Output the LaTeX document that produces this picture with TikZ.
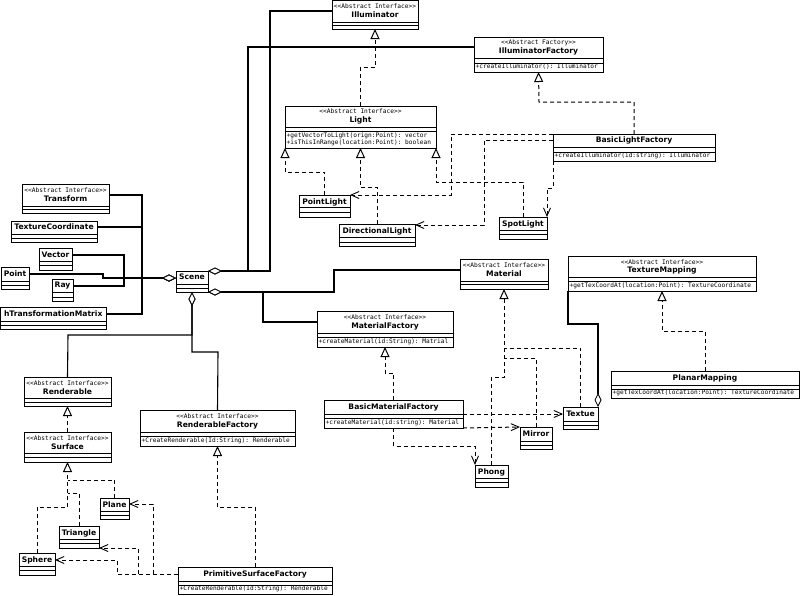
\documentclass[tikz,border=0pt]{standalone}
\usepackage{fontspec}
\setmainfont{DejaVu Sans}
\setmonofont{DejaVu Sans Mono}
\usepackage{tikz}
\usetikzlibrary{arrows.meta,shapes,positioning}
\tikzset{
    classbox/.style={rectangle,draw,fill=white,inner sep=0,outer sep=0,line width=1pt},
    classname/.style={inner sep=0,font=\fontsize{7.6}{8}\selectfont\bfseries},
    stereo/.style={inner sep=0,font=\fontsize{6.2}{7}\ttfamily},
    method/.style={inner sep=0,anchor=west,font=\fontsize{6.15}{7}\ttfamily},
    assoc/.style={line width=1.1pt},
    aggr/.style={assoc,{Diamond[fill=white,length=14pt,width=7pt,line width=.8pt]}-},
    branch/.style={line width=1pt,dash pattern=on 4pt off 3pt},
    impl/.style={branch,-{Triangle[open,length=10pt,width=9pt,line width=1pt]}},
    dep/.style={branch,-{Straight Barb[length=8pt,width=7pt,line width=.9pt]}},
}
\newcommand{\umlclass}[9]{
    \node[classbox,minimum width={(#4-#2)*1pt},minimum height={(#5-#3)*1pt}] (#1) at ({(#2+#4)/2},{(#3+#5)/2}) {};
    \draw[line width=1pt] (#1.west |- 0,#6) -- (#1.east |- 0,#6) (#1.west |- 0,#7) -- (#1.east |- 0,#7);
    \node[classname] (#1-name) at (#1.center |- 0,#8) {#9};
}
\newcommand{\umlstereo}[3]{\node[stereo] (#1-stereo) at (#1.center |- 0,#2) {#3};}
\newcommand{\umlmethod}[4][m]{\node[method] (#2-#1) at ([xshift=1.5pt]#2.west |- 0,#3) {#4};}

\begin{document}
\begin{tikzpicture}[>=stealth,x=1pt,y=-1pt]
    \useasboundingbox (0,0) rectangle (800,595);

    \umlclass{illum}{332}{0.5}{418}{29}{22}{25}{15}{Illuminator}
    \umlstereo{illum}{6}{<{}<Abstract Interface>{}>}
    \umlclass{illumf}{474}{37}{603}{72}{58}{63}{51}{IlluminatorFactory}
    \umlstereo{illumf}{43}{<{}<Abstract Factory>{}>}
    \umlmethod{illumf}{67}{+createIlluminator(): Illuminator}
    \umlclass{light}{285}{106}{436}{148}{127}{131}{120}{Light}
    \umlstereo{light}{111}{<{}<Abstract Interface>{}>}
    \umlmethod{light}{136}{+getVectorToLight(orign:Point): vector}
    \umlmethod[n]{light}{143}{+isThisInRange(location:Point): boolean}
    \umlclass{blf}{553}{134}{715}{161}{147}{152}{140}{BasicLightFactory}
    \umlmethod{blf}{156}{+createIlluminator(id:string): Illuminator}
    \umlclass{pointl}{299}{195}{350}{217}{207}{212}{202}{PointLight}
    \umlclass{dirl}{339}{224}{415}{246}{237}{242}{231}{DirectionalLight}
    \umlclass{spotl}{499}{217}{547}{239}{230}{234}{224}{SpotLight}

    \umlclass{transform}{22}{184}{109}{213}{206}{209}{199}{Transform}
    \umlstereo{transform}{190}{<{}<Abstract Interface>{}>}
    \umlclass{texc}{11}{221}{97}{242}{234}{238}{227}{TextureCoordinate}
    \umlclass{vector}{39}{248}{72}{270}{261}{265}{255}{Vector}
    \umlclass{point}{1}{267}{29}{289}{281}{285}{274}{Point}
    \umlclass{ray}{52}{279}{73}{301}{292}{297}{286}{Ray}
    \umlclass{htm}{0.5}{307}{106}{329}{321}{325}{314}{hTransformationMatrix}
    \umlclass{scene}{176}{271}{208}{292}{284}{288}{277}{Scene}

    \umlclass{rend}{24}{377}{111}{406}{398}{402}{392}{Renderable}
    \umlstereo{rend}{383}{<{}<Abstract Interface>{}>}
    \umlclass{surf}{24}{432}{111}{462}{453}{457}{447}{Surface}
    \umlstereo{surf}{438}{<{}<Abstract Interface>{}>}
    \umlclass{rendf}{140}{410}{295}{446}{432}{436}{425}{RenderableFactory}
    \umlstereo{rendf}{416}{<{}<Abstract Interface>{}>}
    \umlmethod{rendf}{441}{+CreateRenderable(Id:String): Renderable}
    \umlclass{plane}{100}{498}{129}{519}{511}{515}{505}{Plane}
    \umlclass{tri}{59}{526}{99}{548}{539}{543}{533}{Triangle}
    \umlclass{sphere}{19}{553}{55}{575}{566}{570}{560}{Sphere}
    \umlclass{psf}{178}{567}{332}{594}{581}{585}{574}{PrimitiveSurfaceFactory}
    \umlmethod{psf}{589}{+CreateRenderable(Id:String): Renderable}

    \umlclass{mat}{460}{259}{548}{289}{281}{284}{274}{Material}
    \umlstereo{mat}{265}{<{}<Abstract Interface>{}>}
    \umlclass{matf}{317}{311}{453}{347}{333}{337}{326}{MaterialFactory}
    \umlstereo{matf}{317}{<{}<Abstract Interface>{}>}
    \umlmethod{matf}{342}{+createMaterial(id:String): Matrial}
    \umlclass{bmf}{324}{400}{463}{428}{414}{418}{407}{BasicMaterialFactory}
    \umlmethod{bmf}{423}{+createMaterial(id:string): Material}
    \umlclass{textue}{563}{407}{598}{429}{421}{425}{414}{Textue}
    \umlclass{mirror}{520}{427}{552}{449}{441}{445}{434}{Mirror}
    \umlclass{phong}{475}{465}{508}{487}{478}{482}{472}{Phong}
    \umlclass{texm}{568}{256}{756}{291}{277}{281}{270}{TextureMapping}
    \umlstereo{texm}{262}{<{}<Abstract Interface>{}>}
    \umlmethod{texm}{286}{+getTexCoordAt(location:Point): TextureCoordinate}
    \umlclass{planm}{611}{371}{799}{398}{385}{389}{378}{PlanarMapping}
    \umlmethod{planm}{393}{+getTexCoordAt(location:Point): TextureCoordinate}

    \coordinate (surfp) at (67.5,480);
    \coordinate (surft) at (67.5,493);
    \coordinate (psfp) at (153,574);
    \coordinate (psft) at (138,574);
    \coordinate (matm) at (504,358);
    \coordinate (matt) at (504,348);

    \draw [aggr] (scene.north east) -- (270,271) -- (270,11) -- (illum.west |- 0,11);
    \draw [aggr] (scene.north east) -- (248,271) -- (248,47) -- (illumf.west |- 0,47);
    \draw [aggr] (scene.south east) -- (334,292) -- (334,270) -- (mat.west |- 0,270);
    \draw [aggr] (scene.south east) -- (263,292) -- (263,322) -- (matf.west |- 0,322);
    \draw [aggr] (scene.south -| 192,0) -- (192,335) -- (68,335) -- (rend.north);
    \draw [aggr] (scene.south -| 192,0) -- (192,352) -- (218,352) -- (rendf.north);
    \draw [aggr] (scene.west |- 0,278) -- (103,278) -- (103,274) -- (point.east |- 0,274);
    \draw [aggr] (scene.west |- 0,278) -- (142,278) -- (142,195) -- (transform.east |- 0,195);
    \draw [aggr] (scene.west |- 0,278) -- (142,278) -- (142,227) -- (texc.east |- 0,227);
    \draw [aggr] (scene.west |- 0,278) -- (142,278) -- (142,314) -- (htm.east |- 0,314);
    \draw [assoc] (vector.east |- 0,255) -- (124,255) -- (124,286) -- (ray.east |- 0,286);
    \draw [aggr] (textue.north east) -- (598,324) -- (568,324) -- (texm.south west);

    \draw [impl] (light.north) -- (360.5,67) -- (375,67) -- (illum.south);
    \draw [impl] (blf.north) -- (634,102) -- (539,102) -- (illumf.south);
    \draw [impl] (pointl.north) -- (324.5,172) -- (285,172) -- (light.south west);
    \draw [impl] (dirl.north) -- (377,187) -- (360.5,187) -- (light.south);
    \draw [impl] (spotl.north) -- (523,182) -- (436,182) -- (light.south east);
    \draw [dep] (blf.north west) -- (451,134) -- (451,195) -- (pointl.east |- 0,195);
    \draw [dep] (blf.west |- 0,140) -- (484,140) -- (484,225) -- (dirl.east |- 0,225);
    \draw [dep] (blf.south west) -- (553,188) -- (547,188) -- (spotl.north east);

    \draw [impl] (surf.north) -- (rend.south);
    \draw [branch] (plane.north) -- (114.5,480) -- (surfp);
    \draw [branch] (tri.north) -- (79,493) -- (surft);
    \draw [impl] (sphere.north) -- (37,507) -- (67.5,507) -- (surf.south);
    \draw [impl] (psf.north) -- (255,507) -- (217.5,507) -- (rendf.south);
    \draw [dep] (psfp) -- (153,504) -- (plane.east |- 0,504);
    \draw [dep] (psft) -- (138,548) -- (tri.south east);
    \draw [dep] (psf.west |- 0,574) -- (117,574) -- (117,560) -- (sphere.east |- 0,560);

    \draw [impl] (bmf.north) -- (393.5,373) -- (385,373) -- (matf.south);
    \draw [impl] (phong.north) -- (491.5,377) -- (504,377) -- (mat.south);
    \draw [branch] (mirror.north) -- (536,358) -- (matm);
    \draw [branch] (textue.north) -- (580.5,348) -- (matt);
    \draw [dep] (bmf.east |- 0,414) -- (textue.west |- 0,414);
    \draw [dep] (bmf.south east) -- (mirror.north west);
    \draw [dep] (bmf.south) -- (393.5,446) -- (475,446) -- (phong.north west);
    \draw [impl] (planm.north) -- (705,331) -- (662,331) -- (texm.south);
\end{tikzpicture}
\end{document}
